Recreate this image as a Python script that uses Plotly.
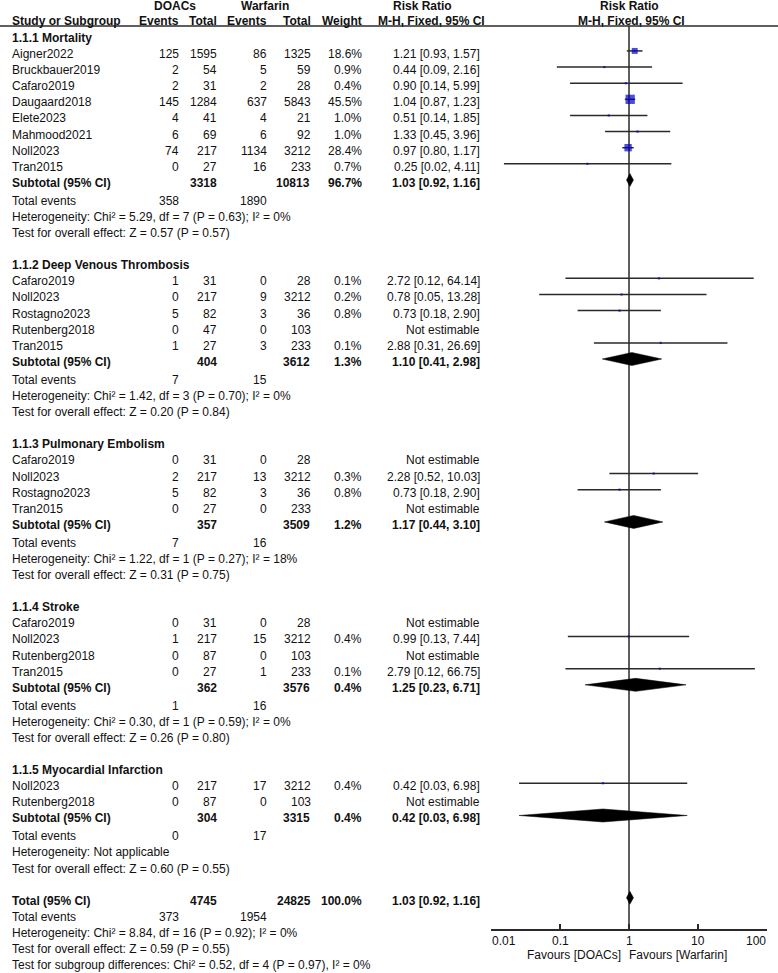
import math
import plotly.graph_objects as go

W, H = 778, 973
FONT = "Liberation Sans, Arial, Helvetica, sans-serif"
TXT = "#111111"
LINE = "#2a2a2a"
BLUE = "#0000c8"

# ---------------- data ----------------
group_titles = ["1.1.1 Mortality", "1.1.2 Deep Venous Thrombosis", "1.1.3 Pulmonary Embolism",
                "1.1.4 Stroke", "1.1.5 Myocardial Infarction"]

mort_study = ["Aigner2022", "Bruckbauer2019", "Cafaro2019", "Daugaard2018", "Elete2023",
              "Mahmood2021", "Noll2023", "Tran2015"]
mort_e1 = [125, 2, 2, 145, 4, 6, 74, 0]
mort_n1 = [1595, 54, 31, 1284, 41, 69, 217, 27]
mort_e2 = [86, 5, 2, 637, 4, 6, 1134, 16]
mort_n2 = [1325, 59, 28, 5843, 21, 92, 3212, 233]
mort_w = [18.6, 0.9, 0.4, 45.5, 1.0, 1.0, 28.4, 0.7]
mort_rr = [1.21, 0.44, 0.90, 1.04, 0.51, 1.33, 0.97, 0.25]
mort_lo = [0.93, 0.09, 0.14, 0.87, 0.14, 0.45, 0.80, 0.0154]
mort_hi = [1.57, 2.16, 5.99, 1.23, 1.85, 3.96, 1.17, 4.11]

dvt_study = ["Cafaro2019", "Noll2023", "Rostagno2023", "Rutenberg2018", "Tran2015"]
dvt_e1 = [1, 0, 5, 0, 1]
dvt_n1 = [31, 217, 82, 47, 27]
dvt_e2 = [0, 9, 3, 0, 3]
dvt_n2 = [28, 3212, 36, 103, 233]
dvt_w = [0.1, 0.2, 0.8, None, 0.1]
dvt_rr = [2.72, 0.78, 0.73, None, 2.88]
dvt_lo = [0.12, 0.05, 0.18, None, 0.31]
dvt_hi = [64.14, 13.28, 2.90, None, 26.69]

pe_study = ["Cafaro2019", "Noll2023", "Rostagno2023", "Tran2015"]
pe_e1 = [0, 2, 5, 0]
pe_n1 = [31, 217, 82, 27]
pe_e2 = [0, 13, 3, 0]
pe_n2 = [28, 3212, 36, 233]
pe_w = [None, 0.3, 0.8, None]
pe_rr = [None, 2.28, 0.73, None]
pe_lo = [None, 0.52, 0.18, None]
pe_hi = [None, 10.03, 2.90, None]

str_study = ["Cafaro2019", "Noll2023", "Rutenberg2018", "Tran2015"]
str_e1 = [0, 1, 0, 0]
str_n1 = [31, 217, 87, 27]
str_e2 = [0, 15, 0, 1]
str_n2 = [28, 3212, 103, 233]
str_w = [None, 0.4, None, 0.1]
str_rr = [None, 0.99, None, 2.79]
str_lo = [None, 0.13, None, 0.12]
str_hi = [None, 7.44, None, 66.75]

mi_study = ["Noll2023", "Rutenberg2018"]
mi_e1 = [0, 0]
mi_n1 = [217, 87]
mi_e2 = [17, 0]
mi_n2 = [3212, 103]
mi_w = [0.4, None]
mi_rr = [0.42, None]
mi_lo = [0.0255, None]
mi_hi = [6.98, None]

sub_n1 = [3318, 404, 357, 362, 304]
sub_n2 = [10813, 3612, 3509, 3576, 3315]
sub_w = [96.7, 1.3, 1.2, 0.4, 0.4]
sub_rr = [1.03, 1.10, 1.17, 1.25, 0.42]
sub_lo = [0.92, 0.41, 0.44, 0.23, 0.0255]
sub_hi = [1.16, 2.98, 3.10, 6.71, 6.98]
tev1 = [358, 7, 7, 1, 0]
tev2 = [1890, 15, 16, 16, 17]
het_txt = ["Heterogeneity: Chi² = 5.29, df = 7 (P = 0.63); I² = 0%",
           "Heterogeneity: Chi² = 1.42, df = 3 (P = 0.70); I² = 0%",
           "Heterogeneity: Chi² = 1.22, df = 1 (P = 0.27); I² = 18%",
           "Heterogeneity: Chi² = 0.30, df = 1 (P = 0.59); I² = 0%",
           "Heterogeneity: Not applicable"]
test_txt = ["Test for overall effect: Z = 0.57 (P = 0.57)",
            "Test for overall effect: Z = 0.20 (P = 0.84)",
            "Test for overall effect: Z = 0.31 (P = 0.75)",
            "Test for overall effect: Z = 0.26 (P = 0.80)",
            "Test for overall effect: Z = 0.60 (P = 0.55)"]

total_n1, total_n2, total_w = 4745, 24825, 100.0
total_rr, total_lo, total_hi = 1.03, 0.92, 1.16
total_e1, total_e2 = 373, 1954
total_het = "Heterogeneity: Chi² = 8.84, df = 16 (P = 0.92); I² = 0%"
total_test = "Test for overall effect: Z = 0.59 (P = 0.55)"
subgroup_test = "Test for subgroup differences: Chi² = 0.52, df = 4 (P = 0.97), I² = 0%"

tick_vals = [0.01, 0.1, 1, 10, 100]
tick_text = ["0.01", "0.1", "1", "10", "100"]

groups = [
    (mort_study, mort_e1, mort_n1, mort_e2, mort_n2, mort_w, mort_rr, mort_lo, mort_hi),
    (dvt_study, dvt_e1, dvt_n1, dvt_e2, dvt_n2, dvt_w, dvt_rr, dvt_lo, dvt_hi),
    (pe_study, pe_e1, pe_n1, pe_e2, pe_n2, pe_w, pe_rr, pe_lo, pe_hi),
    (str_study, str_e1, str_n1, str_e2, str_n2, str_w, str_rr, str_lo, str_hi),
    (mi_study, mi_e1, mi_n1, mi_e2, mi_n2, mi_w, mi_rr, mi_lo, mi_hi),
]

# ---------------- layout helpers ----------------
PITCH = 16.13
Y0 = 34.8
AXIS_Y = 929
HEADER_LINE_Y = 26
X_NAME = 11
X_E1, X_N1, X_E2, X_N2, X_W, X_CI = 180, 218, 268, 312, 363, 481


def ym(idx):
    return Y0 + PITCH * idx


def yt(idx):
    return ym(idx) + 3


annotations = []


def txt(x, y, s, anchor="left", bold=False, size=12, xref="paper"):
    annotations.append(dict(
        x=(x / W) if xref == "paper" else x, y=y, xref=xref, yref="y",
        text=f"<b>{s}</b>" if bold else s,
        showarrow=False, xanchor=anchor, yanchor="middle", borderpad=0,
        font=dict(family=FONT, size=size, color=TXT)))


def ci_label(rr, lo, hi):
    return f"{rr:.2f} [{lo:.2f}, {hi:.2f}]"


fig = go.Figure()

ci_x, ci_y = [], []
sq_x, sq_y, sq_s = [], [], []
diamonds = []

idx = 0.0
for g, (study, e1, n1, e2, n2, w, rr, lo, hi) in enumerate(groups):
    txt(X_NAME, yt(idx), group_titles[g], bold=True)
    idx += 1
    for i, name in enumerate(study):
        y = yt(idx)
        txt(X_NAME, y, name)
        txt(X_E1, y, str(e1[i]), "right")
        txt(X_N1, y, str(n1[i]), "right")
        txt(X_E2, y, str(e2[i]), "right")
        txt(X_N2, y, str(n2[i]), "right")
        if rr[i] is None:
            txt(X_CI, y, "Not estimable", "right")
        else:
            txt(X_W, y, f"{w[i]:.1f}%", "right")
            txt(X_CI, y, ci_label(rr[i], lo[i], hi[i]), "right")
            ci_x += [lo[i], hi[i], None]
            ci_y += [ym(idx), ym(idx), None]
            sq_x.append(rr[i])
            sq_y.append(ym(idx))
            sq_s.append(max(2.2, 1.38 * math.sqrt(w[i])))
        idx += 1
    y = yt(idx)
    txt(X_NAME, y, "Subtotal (95% CI)", bold=True)
    txt(X_N1, y, str(sub_n1[g]), "right", bold=True)
    txt(X_N2 - 1, y, str(sub_n2[g]), "right", bold=True)
    txt(X_W, y, f"{sub_w[g]:.1f}%", "right", bold=True)
    txt(X_CI, y, ci_label(sub_rr[g], sub_lo[g], sub_hi[g]), "right", bold=True)
    diamonds.append((sub_lo[g], sub_rr[g], sub_hi[g], ym(idx)))
    idx += 1.1
    y = yt(idx)
    txt(X_NAME, y, "Total events")
    txt(X_E1, y, str(tev1[g]), "right")
    txt(X_E2, y, str(tev2[g]), "right")
    idx += 1
    txt(X_NAME, yt(idx), het_txt[g])
    idx += 1
    txt(X_NAME, yt(idx), test_txt[g])
    idx += 2

# overall
y = yt(idx)
txt(X_NAME, y, "Total (95% CI)", bold=True)
txt(X_N1, y, str(total_n1), "right", bold=True)
txt(X_N2, y, str(total_n2), "right", bold=True)
txt(X_W, y, f"{total_w:.1f}%", "right", bold=True)
txt(X_CI, y, ci_label(total_rr, total_lo, total_hi), "right", bold=True)
diamonds.append((total_lo, total_rr, total_hi, ym(idx)))
idx += 1
y = yt(idx)
txt(X_NAME, y, "Total events")
txt(X_E1, y, str(total_e1), "right")
txt(X_E2, y, str(total_e2), "right")
idx += 1
txt(X_NAME, yt(idx), total_het)
idx += 1
txt(X_NAME, yt(idx), total_test)
idx += 1
txt(X_NAME, yt(idx), subgroup_test)

# header
txt(175, 6, "DOACs", "center", bold=True)
txt(265, 6, "Warfarin", "center", bold=True)
txt(422, 6, "Risk Ratio", "center", bold=True)
txt(629, 6, "Risk Ratio", "center", bold=True)
txt(X_NAME, 21, "Study or Subgroup", bold=True)
txt(X_E1, 21, "Events", "right", bold=True)
txt(X_N1, 21, "Total", "right", bold=True)
txt(X_E2, 21, "Events", "right", bold=True)
txt(X_N2, 21, "Total", "right", bold=True)
txt(X_W, 21, "Weight", "right", bold=True)
txt(431, 21, "M-H, Fixed, 95% CI", "center", bold=True)
txt(631, 21, "M-H, Fixed, 95% CI", "center", bold=True)

# axis tick labels (end labels kept inside the axis span)
for k, (tv, tt) in enumerate(zip(tick_vals, tick_text)):
    anchor = "left" if k == 0 else ("right" if k == len(tick_vals) - 1 else "center")
    txt(math.log10(tv), 941, tt, anchor, xref="x")

# favours
txt(622, 955, "Favours [DOACs]", "right")
txt(628, 955, "Favours [Warfarin]", "left")

# traces
fig.add_trace(go.Scatter(x=ci_x, y=ci_y, mode="lines", line=dict(color=LINE, width=1.5),
                         hoverinfo="skip", showlegend=False))
fig.add_trace(go.Scatter(x=sq_x, y=sq_y, mode="markers",
                         marker=dict(symbol="square", size=sq_s, color=BLUE, line=dict(width=0)),
                         hoverinfo="skip", showlegend=False))
for lo, rr, hi, y in diamonds:
    fig.add_trace(go.Scatter(x=[lo, rr, hi, rr, lo], y=[y, y - 6.5, y, y + 6.5, y],
                             mode="lines", fill="toself", fillcolor="black",
                             line=dict(color="black", width=0.5), showlegend=False,
                             hoverinfo="skip"))

shapes = [
    dict(type="line", xref="paper", yref="y", x0=0, x1=1, y0=HEADER_LINE_Y, y1=HEADER_LINE_Y,
         line=dict(color=LINE, width=1.3)),
    dict(type="line", xref="x", yref="y", x0=1, x1=1, y0=HEADER_LINE_Y, y1=AXIS_Y,
         line=dict(color=LINE, width=1.5), layer="below"),
]

fig.update_layout(
    width=W, height=H, margin=dict(l=0, r=0, t=0, b=0, pad=0, autoexpand=False),
    paper_bgcolor="white", plot_bgcolor="white", hovermode=False,
    showlegend=False, annotations=annotations, shapes=shapes,
    xaxis=dict(type="log", range=[-2, 2], domain=[491 / W, 767 / W], anchor="free",
               position=(H - AXIS_Y) / H, showgrid=False, zeroline=False, automargin=False,
               showline=True, linecolor=LINE, linewidth=1.5, fixedrange=True,
               ticks="inside", ticklen=5, tickwidth=1.5, tickcolor=LINE,
               tickvals=tick_vals, showticklabels=False),
    yaxis=dict(range=[H, 0], domain=[0, 1], visible=False, fixedrange=True, automargin=False),
)

fig.write_html("out.html", config={"displayModeBar": False, "staticPlot": True},
               post_script="document.body.style.margin='0px';")
